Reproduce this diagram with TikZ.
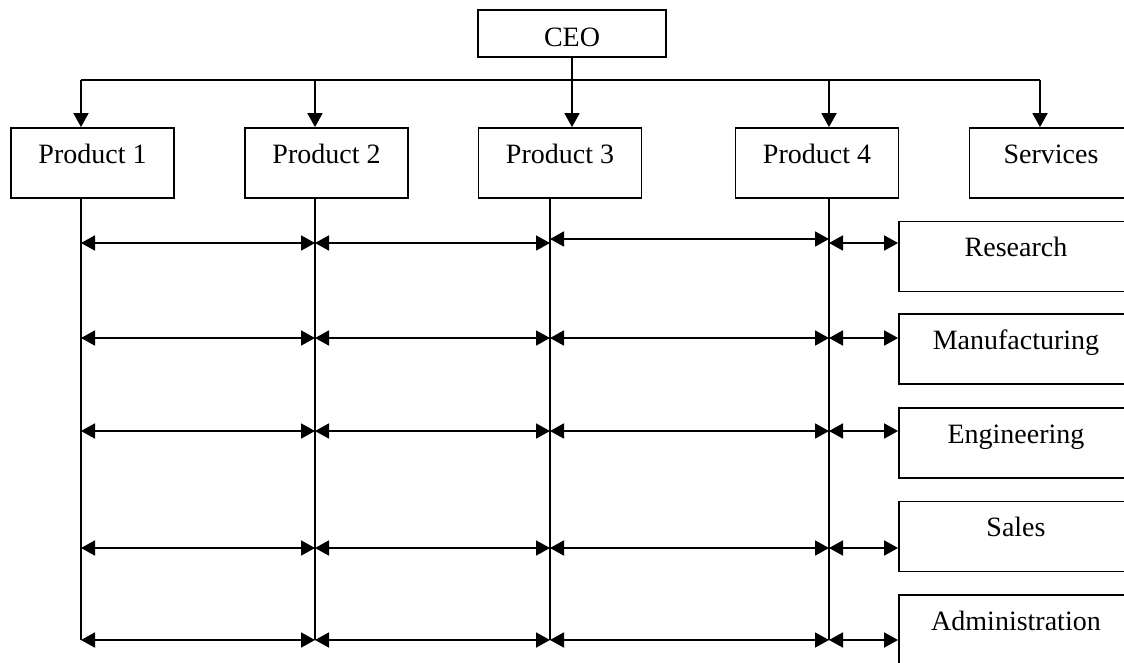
\documentclass[tikz,border=0pt]{standalone}
\usepackage{fontspec}
\setmainfont{Liberation Serif}
\usetikzlibrary{arrows.meta}
\begin{document}
\begin{tikzpicture}[x=1pt,y=-1pt,
  line width=1.8pt,
  tip/.style={-{Triangle[length=14pt,width=15pt]}},
  both/.style={{Triangle[length=14pt,width=15pt]}-{Triangle[length=14pt,width=15pt]}},
  unit/.style={draw, line width=1.8pt, inner sep=0pt, text height=0pt, text depth=0pt,
    font=\fontsize{28}{30}\selectfont},
  prod/.style={unit, minimum width=163pt, minimum height=70pt},
  func/.style={unit, minimum width=234pt, minimum height=70pt}]
\useasboundingbox (0,0) rectangle (1124,662);
\clip (0,0) rectangle (1124,662);
\fill[white] (0,0) rectangle (1124,662);

% top of the hierarchy
\node[unit, minimum width=188pt, minimum height=47pt, text height=25pt] (ceo) at (572,33.5) {CEO};

% product divisions and services
\node[prod] (p1) at (92.5,163) {Product 1};
\node[prod] (p2) at (326.5,163) {Product 2};
\node[prod] (p3) at (560,163) {Product 3};
\node[prod] (p4) at (817,163) {Product 4};
\node[prod] (srv) at (1051,163) {Services};

% functional departments
\node[func] (res) at (1016,256.5) {Research};
\node[func] (man) at (1016,349) {Manufacturing};
\node[func] (eng) at (1016,443) {Engineering};
\node[func] (sal) at (1016,536.5) {Sales};
\node[func] (adm) at (1016,630) {Administration};

% distribution bus under the CEO
\coordinate (d1) at (81,80);
\coordinate (d2) at (315,80);
\coordinate (d3) at (572,80);
\coordinate (d4) at (829,80);
\coordinate (d5) at (1040,80);
\draw (ceo.south) -- (d3);
\draw (d1) -- (d5);
\draw[tip] (d1) -- (d1 |- p1.north);
\draw[tip] (d2) -- (d2 |- p2.north);
\draw[tip] (d3) -- (d3 |- p3.north);
\draw[tip] (d4) -- (d4 |- p4.north);
\draw[tip] (d5) -- (d5 |- srv.north);

% vertical lines below the product divisions
\coordinate (l1) at (81,640);
\coordinate (l2) at (315,640);
\coordinate (l3) at (550,640);
\coordinate (l4) at (829,640);
\draw (l1 |- p1.south) -- (l1);
\draw (l2 |- p2.south) -- (l2);
\draw (l3 |- p3.south) -- (l3);
\draw (l4 |- p4.south) -- (l4);

% matrix rows
\coordinate (r1) at (0,243);
\coordinate (r1b) at (0,239);
\coordinate (r2) at (0,338);
\coordinate (r3) at (0,431);
\coordinate (r4) at (0,548);
\coordinate (r5) at (0,640);
\foreach \r/\s/\b in {r1/r1b/res, r2/r2/man, r3/r3/eng, r4/r4/sal, r5/r5/adm}{
  \draw[both] (l1 |- \r) -- (l2 |- \r);
  \draw[both] (l2 |- \r) -- (l3 |- \r);
  \draw[both] (l3 |- \s) -- (l4 |- \s);
  \draw[both] (l4 |- \r) -- (\b.west |- \r);
}
\end{tikzpicture}
\end{document}
